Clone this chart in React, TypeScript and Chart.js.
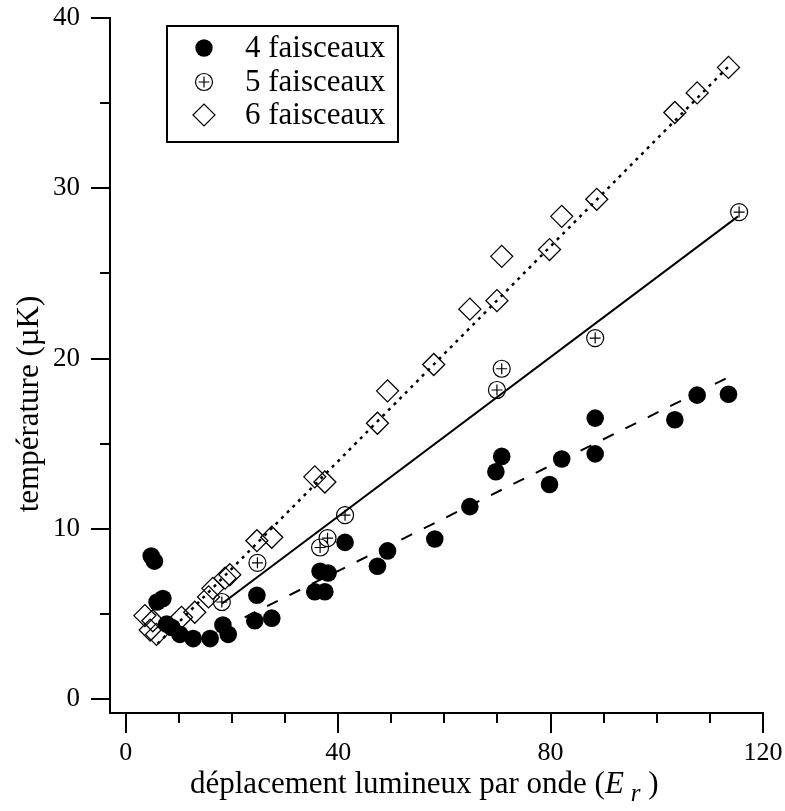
import React, { useEffect, useRef } from "react";
import { Chart, registerables } from "chart.js";

Chart.register(...registerables);

// ---- axes ----
const X_MIN = -2.96;
const X_MAX = 120;
const Y_MIN = -0.82;
const Y_MAX = 40;
const xMajorTicks = [0, 40, 80, 120];
const xMinorTicks = [10, 20, 30, 50, 60, 70, 90, 100, 110];
const yMajorTicks = [0, 10, 20, 30, 40];
const yMinorTicks = [5, 15, 25, 35];

// ---- series ----
const seriesLabels = ["4 faisceaux", "5 faisceaux", "6 faisceaux"];

const fais4X = [4.8, 5.4, 5.9, 7.0, 7.7, 8.7, 10.2, 12.7, 15.9, 18.3, 19.3, 24.3, 24.7, 27.5, 35.6, 37.5, 36.6, 38.1, 41.3, 47.4, 49.3, 58.2, 64.8, 69.7, 70.8, 79.8, 82.1, 88.4, 88.4, 103.4, 107.6, 113.5];
const fais4Y = [8.4, 8.1, 5.7, 5.9, 4.4, 4.2, 3.8, 3.55, 3.55, 4.35, 3.8, 4.6, 6.1, 4.75, 6.3, 6.3, 7.5, 7.4, 9.2, 7.8, 8.7, 9.4, 11.3, 13.35, 14.25, 12.6, 14.1, 16.5, 14.4, 16.4, 17.85, 17.9];

const fais5X = [18.1, 24.8, 36.6, 38.0, 41.3, 69.9, 70.8, 88.4, 115.5];
const fais5Y = [5.7, 8.0, 8.9, 9.45, 10.8, 18.15, 19.4, 21.2, 28.6];

const fais6X = [3.6, 5.1, 4.6, 5.8, 10.5, 13.0, 15.6, 16.4, 18.7, 19.6, 24.7, 27.5, 35.6, 37.5, 47.4, 49.3, 58.0, 64.8, 69.9, 70.8, 79.8, 82.1, 88.7, 103.4, 107.6, 113.5];
const fais6Y = [4.9, 4.6, 4.05, 3.8, 4.8, 5.1, 6.0, 6.5, 7.1, 7.3, 9.3, 9.5, 13.05, 12.75, 16.2, 18.1, 19.65, 22.9, 23.4, 26.0, 26.4, 28.35, 29.35, 34.45, 35.6, 37.1];

// fitted lines (end points)
const fit4X = [22.4, 113.5];
const fit4Y = [4.8, 18.9];
const fit5X = [18.1, 115.3];
const fit5Y = [5.6, 28.35];
const fit6X = [6.0, 113.8];
const fit6Y = [3.25, 37.25];

const xTitleMain = "déplacement lumineux par onde (";
const xTitleE = "E";
const xTitleSub = "r";
const xTitleEnd = " )";
const yTitle = "température (µK)";

const pts = (xs: number[], ys: number[]) => xs.map((x, i) => ({ x, y: ys[i] }));

const SERIF = '"Liberation Serif", "Times New Roman", serif';

const decorPlugin = {
  id: "decor",
  afterDraw(chart: any) {
    const ctx = chart.ctx as CanvasRenderingContext2D;
    const xs = chart.scales.x;
    const ys = chart.scales.y;
    const area = chart.chartArea;
    ctx.save();
    ctx.strokeStyle = "#000";
    ctx.fillStyle = "#000";
    ctx.lineWidth = 2;
    ctx.lineCap = "butt";
    // x ticks
    const drawX = (v: number, len: number) => {
      const p = Math.round(xs.getPixelForValue(v));
      ctx.beginPath();
      ctx.moveTo(p, area.bottom);
      ctx.lineTo(p, area.bottom + len);
      ctx.stroke();
    };
    xMajorTicks.forEach((v) => drawX(v, 20));
    xMinorTicks.forEach((v) => drawX(v, 10));
    const drawY = (v: number, len: number) => {
      const p = Math.round(ys.getPixelForValue(v));
      ctx.beginPath();
      ctx.moveTo(area.left, p);
      ctx.lineTo(area.left - len, p);
      ctx.stroke();
    };
    yMajorTicks.forEach((v) => drawY(v, 19));
    yMinorTicks.forEach((v) => drawY(v, 10));

    // x title
    ctx.textBaseline = "alphabetic";
    ctx.textAlign = "left";
    ctx.font = `31px ${SERIF}`;
    let tx = 190;
    const ty = 793;
    ctx.fillText(xTitleMain, tx, ty);
    tx += ctx.measureText(xTitleMain).width;
    ctx.font = `italic 31px ${SERIF}`;
    ctx.fillText(xTitleE, tx, ty);
    tx += ctx.measureText(xTitleE).width + 7;
    ctx.font = `italic 25px ${SERIF}`;
    ctx.fillText(xTitleSub, tx, ty + 8);
    tx += ctx.measureText(xTitleSub).width;
    ctx.font = `31px ${SERIF}`;
    ctx.fillText(xTitleEnd, tx, ty);

    // y title
    ctx.save();
    ctx.translate(38, 404);
    ctx.rotate(-Math.PI / 2);
    ctx.textAlign = "center";
    ctx.font = `31px ${SERIF}`;
    ctx.fillText(yTitle, 0, 0);
    ctx.restore();

    // legend
    const bx = 167, by = 26, bw = 231, bh = 116;
    ctx.lineWidth = 2;
    ctx.strokeRect(bx, by, bw, bh);
    const mx = 204;
    const rows = [48, 82, 115];
    ctx.font = `31px ${SERIF}`;
    ctx.textBaseline = "middle";
    rows.forEach((ry, i) => {
      ctx.fillText(seriesLabels[i], 245, ry + 1);
    });
    // marker 1: filled circle
    ctx.beginPath();
    ctx.arc(mx, rows[0], 8.7, 0, Math.PI * 2);
    ctx.fill();
    // marker 2: circle with plus
    ctx.lineWidth = 1.2;
    ctx.beginPath();
    ctx.arc(mx, rows[1], 8.5, 0, Math.PI * 2);
    ctx.stroke();
    ctx.beginPath();
    ctx.moveTo(mx - 5.5, rows[1]);
    ctx.lineTo(mx + 5.5, rows[1]);
    ctx.moveTo(mx, rows[1] - 5.5);
    ctx.lineTo(mx, rows[1] + 5.5);
    ctx.stroke();
    // marker 3: diamond
    ctx.beginPath();
    ctx.moveTo(mx - 11, rows[2]);
    ctx.lineTo(mx, rows[2] - 11);
    ctx.lineTo(mx + 11, rows[2]);
    ctx.lineTo(mx, rows[2] + 11);
    ctx.closePath();
    ctx.stroke();
    ctx.restore();
  },
};

export default function App() {
  const ref = useRef<HTMLCanvasElement | null>(null);
  useEffect(() => {
    if (!ref.current) return;
    const chart = new Chart(ref.current, {
      type: "scatter",
      data: {
        datasets: [
          {
            label: seriesLabels[0],
            data: pts(fais4X, fais4Y),
            pointStyle: "circle",
            pointRadius: 8.8,
            pointBackgroundColor: "#000",
            pointBorderColor: "#000",
            pointBorderWidth: 0,
          },
          {
            label: seriesLabels[1],
            data: pts(fais5X, fais5Y),
            pointStyle: "circle",
            pointRadius: 8.5,
            pointBackgroundColor: "rgba(0,0,0,0)",
            pointBorderColor: "#000",
            pointBorderWidth: 1.2,
          },
          {
            label: seriesLabels[1] + " +",
            data: pts(fais5X, fais5Y),
            pointStyle: "cross",
            pointRadius: 5.5,
            pointBorderColor: "#000",
            pointBorderWidth: 1.2,
          },
          {
            label: seriesLabels[2],
            data: pts(fais6X, fais6Y),
            pointStyle: "rectRot",
            pointRadius: 11,
            pointBackgroundColor: "rgba(0,0,0,0)",
            pointBorderColor: "#000",
            pointBorderWidth: 1.3,
          },
          {
            label: "fit 4",
            data: pts(fit4X, fit4Y),
            showLine: true,
            pointRadius: 0,
            borderColor: "#000",
            borderWidth: 2,
            borderDash: [12, 13],
          },
          {
            label: "fit 5",
            data: pts(fit5X, fit5Y),
            showLine: true,
            pointRadius: 0,
            borderColor: "#000",
            borderWidth: 2,
          },
          {
            label: "fit 6",
            data: pts(fit6X, fit6Y),
            showLine: true,
            pointRadius: 0,
            borderColor: "#000",
            borderWidth: 2.5,
            borderDash: [3, 5],
          },
        ],
      },
      options: {
        animation: false,
        responsive: false,
        maintainAspectRatio: false,
        layout: { padding: { left: 0, right: 22, top: 18, bottom: 0 } },
        plugins: { legend: { display: false }, tooltip: { enabled: false } },
        scales: {
          x: {
            type: "linear",
            min: X_MIN,
            max: X_MAX,
            afterBuildTicks: (s: any) => {
              s.ticks = xMajorTicks.map((v) => ({ value: v }));
            },
            afterFit: (s: any) => {
              s.height = 98;
              s.paddingLeft = 0;
              s.paddingRight = 0;
              s.paddingTop = 0;
              s.paddingBottom = 0;
            },
            grid: { display: false, drawTicks: false },
            border: { display: true, color: "#000", width: 2 },
            ticks: {
              color: "#000",
              padding: 25,
              maxRotation: 0,
              autoSkip: false,
              font: { family: SERIF, size: 26 },
            },
          },
          y: {
            type: "linear",
            min: Y_MIN,
            max: Y_MAX,
            afterBuildTicks: (s: any) => {
              s.ticks = yMajorTicks.map((v) => ({ value: v }));
            },
            afterFit: (s: any) => {
              s.width = 110;
              s.paddingLeft = 0;
              s.paddingRight = 0;
              s.paddingTop = 0;
              s.paddingBottom = 0;
            },
            grid: { display: false, drawTicks: false },
            border: { display: true, color: "#000", width: 2 },
            ticks: {
              color: "#000",
              padding: 30,
              autoSkip: false,
              font: { family: SERIF, size: 27 },
            },
          },
        },
      },
      plugins: [decorPlugin],
    });
    return () => chart.destroy();
  }, []);
  return (
    <div style={{ position: "absolute", left: 0, top: 0, width: 785, height: 811, background: "#fff" }}>
      <canvas ref={ref} width={785} height={811} style={{ width: 785, height: 811, display: "block" }} />
    </div>
  );
}
